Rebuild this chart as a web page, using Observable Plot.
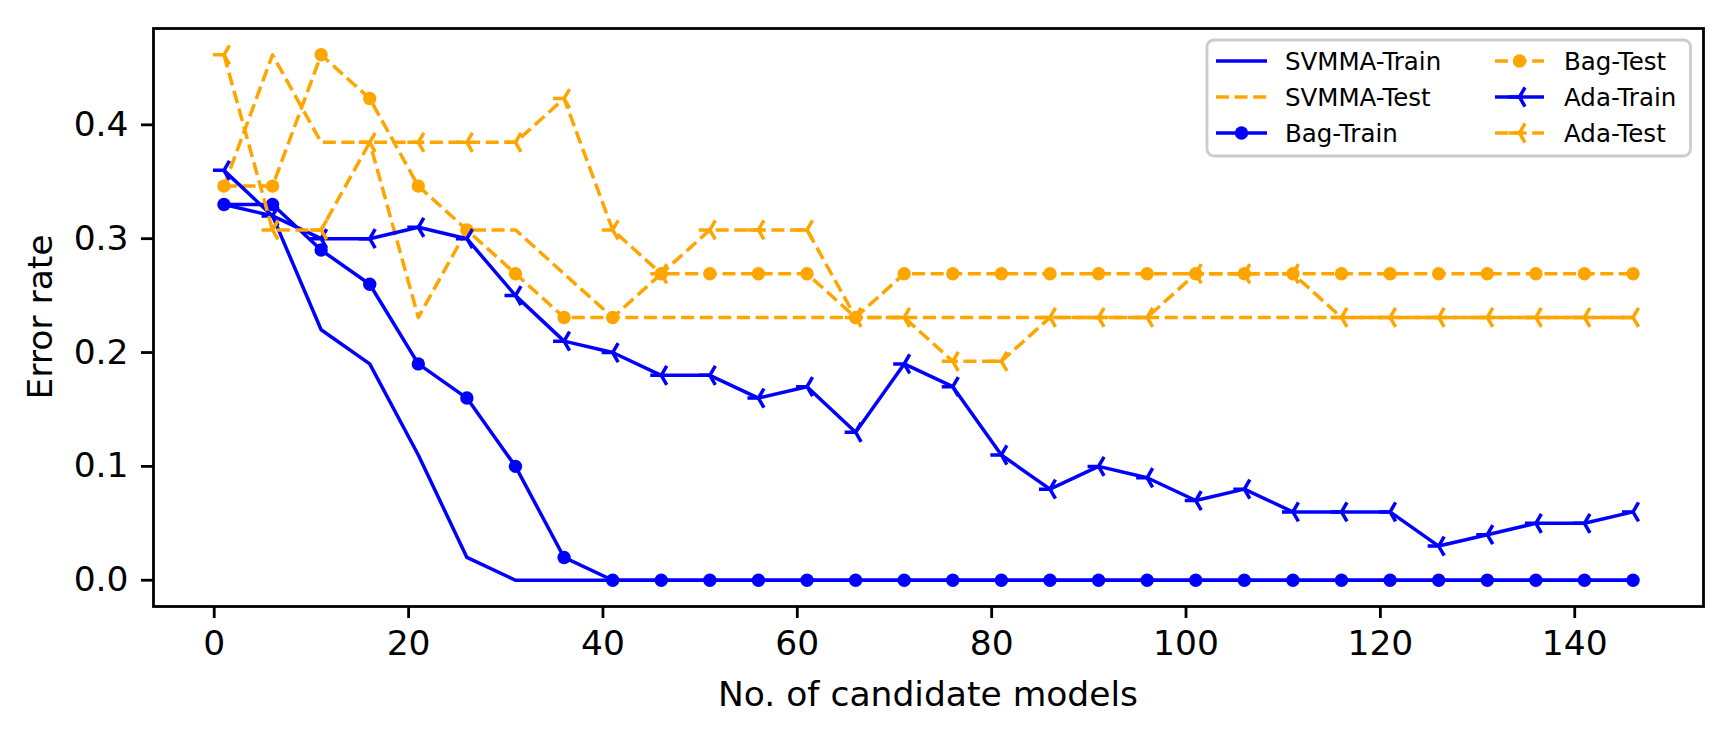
<!DOCTYPE html>
<html><head><meta charset="utf-8">
<script src="https://cdn.jsdelivr.net/npm/d3@7"></script>
<script src="https://cdn.jsdelivr.net/npm/@observablehq/plot@0.6"></script>
<style>html,body{margin:0;padding:0;background:#fff}svg{display:block}</style>
</head><body><div id="chart"></div>
<script>
// ---- data ----
const models = [1,6,11,16,21,26,31,36,41,46,51,56,61,66,71,76,81,86,91,96,101,106,111,116,121,126,131,136,141,146];
const svmmaTrain = [0.33,0.32,0.22,0.19,0.11,0.02,0,0,0,0,0,0,0,0,0,0,0,0,0,0,0,0,0,0,0,0,0,0,0,0];
const svmmaTest  = [0.3462,0.4615,0.3846,0.3846,0.2308,0.3077,0.3077,0.2692,0.2308,0.2308,0.2308,0.2308,0.2308,0.2308,0.2308,0.2308,0.2308,0.2308,0.2308,0.2308,0.2308,0.2308,0.2308,0.2308,0.2308,0.2308,0.2308,0.2308,0.2308,0.2308];
const bagTrain   = [0.33,0.33,0.29,0.26,0.19,0.16,0.10,0.02,0,0,0,0,0,0,0,0,0,0,0,0,0,0,0,0,0,0,0,0,0,0];
const bagTest    = [0.3462,0.3462,0.4615,0.4231,0.3462,0.3077,0.2692,0.2308,0.2308,0.2692,0.2692,0.2692,0.2692,0.2308,0.2692,0.2692,0.2692,0.2692,0.2692,0.2692,0.2692,0.2692,0.2692,0.2692,0.2692,0.2692,0.2692,0.2692,0.2692,0.2692];
const adaTrain   = [0.36,0.32,0.30,0.30,0.31,0.30,0.25,0.21,0.20,0.18,0.18,0.16,0.17,0.13,0.19,0.17,0.11,0.08,0.10,0.09,0.07,0.08,0.06,0.06,0.06,0.03,0.04,0.05,0.05,0.06];
const adaTest    = [0.4615,0.3077,0.3077,0.3846,0.3846,0.3846,0.3846,0.4231,0.3077,0.2692,0.3077,0.3077,0.3077,0.2308,0.2308,0.1923,0.1923,0.2308,0.2308,0.2308,0.2692,0.2692,0.2692,0.2308,0.2308,0.2308,0.2308,0.2308,0.2308,0.2308];
const seriesNames = ["SVMMA-Train","SVMMA-Test","Bag-Train","Bag-Test","Ada-Train","Ada-Test"];
const xTicks = [0,20,40,60,80,100,120,140];
const yTicks = [0.0,0.1,0.2,0.3,0.4];
const xLabel = "No. of candidate models";
const yLabel = "Error rate";

// ---- style ----
const W = 1731, H = 737;
const mL = 153, mR = 28, mT = 28, mB = 131;
const BLUE = "#0000ff", ORANGE = "#ffa500";
const FONT = "DejaVu Sans";
const LW = 3.5, DASH = "13,5.6";
const tri = {draw(ctx, size){
  const r = Math.sqrt(size/Math.PI);
  ctx.moveTo(0,0); ctx.lineTo(-r,0);
  ctx.moveTo(0,0); ctx.lineTo(r*0.5,-r*0.866);
  ctx.moveTo(0,0); ctx.lineTo(r*0.5, r*0.866);
}};
const styles = [
  {color: BLUE,   dash: null, marker: null},
  {color: ORANGE, dash: DASH, marker: null},
  {color: BLUE,   dash: null, marker: "dot"},
  {color: ORANGE, dash: DASH, marker: "dot"},
  {color: BLUE,   dash: null, marker: "tri"},
  {color: ORANGE, dash: DASH, marker: "tri"}
];
const allVals = [svmmaTrain, svmmaTest, bagTrain, bagTest, adaTrain, adaTest];

const marks = [];
allVals.forEach((vals, k) => {
  const st = styles[k];
  const data = models.map((m,i) => ({m, v: vals[i], s: seriesNames[k]}));
  marks.push(Plot.line(data, {x:"m", y:"v", stroke: st.color, strokeWidth: LW, strokeDasharray: st.dash || undefined, strokeLinejoin:"round", strokeLinecap: "butt"}));
  if (st.marker === "dot") marks.push(Plot.dot(data, {x:"m", y:"v", r: 6.7, fill: st.color, stroke: "none"}));
  if (st.marker === "tri") marks.push(Plot.dot(data, {x:"m", y:"v", r: 11, symbol: tri, fill: "none", stroke: st.color, strokeWidth: LW}));
});
marks.push(Plot.frame({stroke: "black", strokeWidth: 2.8}));
marks.push(Plot.axisX({ticks: xTicks, tickSize: 12, tickPadding: 12, fontSize: 34.5, strokeWidth: 2.8, label: null, tickFormat: d => String(d)}));
marks.push(Plot.axisY({ticks: yTicks, tickSize: 12, tickPadding: 13, fontSize: 34.5, strokeWidth: 2.8, label: null, tickFormat: d3.format(".1f")}));

const plot = Plot.plot({
  width: W, height: H,
  marginLeft: mL, marginRight: mR, marginTop: mT, marginBottom: mB,
  x: {domain: [-6.25, 153.25]},
  y: {domain: [-0.023077, 0.484615]},
  style: {fontFamily: FONT, background: "white", color: "black", overflow: "visible"},
  marks
});
document.getElementById("chart").appendChild(plot);

// ---- axis labels and legend ----
const svg = d3.select(plot);
const cx = mL + (W - mL - mR)/2, cy = mT + (H - mT - mB)/2;
svg.append("text").attr("x", cx).attr("y", 706).attr("text-anchor","middle")
  .attr("font-family", FONT).attr("font-size", 34.5).attr("fill","black").text(xLabel);
svg.append("text").attr("transform", `translate(52,${cy}) rotate(-90)`).attr("text-anchor","middle")
  .attr("font-family", FONT).attr("font-size", 34.5).attr("fill","black").text(yLabel);

const lg = svg.append("g").attr("text-anchor","start");
lg.append("rect").attr("x",1207).attr("y",40).attr("width",483.5).attr("height",116)
  .attr("rx",7).attr("fill","white").attr("fill-opacity",0.8).attr("stroke","#cccccc").attr("stroke-width",2.8);
const cols = [{x0:1216, x1:1267, tx:1285}, {x0:1495, x1:1544, tx:1564}];
const rowsY = [61, 97, 133];
seriesNames.forEach((name, k) => {
  const c = cols[Math.floor(k/3)], y = rowsY[k%3], st = styles[k];
  lg.append("line").attr("x1",c.x0).attr("x2",c.x1).attr("y1",y).attr("y2",y)
    .attr("stroke", st.color).attr("stroke-width", LW).attr("stroke-dasharray", st.dash ? st.dash : null);
  const mx = (c.x0 + c.x1)/2;
  if (st.marker === "dot") lg.append("circle").attr("cx",mx).attr("cy",y).attr("r",6.7).attr("fill",st.color);
  if (st.marker === "tri") {
    const r = 11;
    lg.append("path").attr("d", `M${mx},${y}L${mx-r},${y}M${mx},${y}L${mx+r*0.5},${y-r*0.866}M${mx},${y}L${mx+r*0.5},${y+r*0.866}`)
      .attr("stroke", st.color).attr("stroke-width", LW).attr("fill","none");
  }
  lg.append("text").attr("x", c.tx).attr("y", y).attr("dy","0.36em").attr("text-anchor","start").attr("font-family", FONT)
    .attr("font-size", 24.5).attr("fill","black").text(name);
});
</script></body></html>
